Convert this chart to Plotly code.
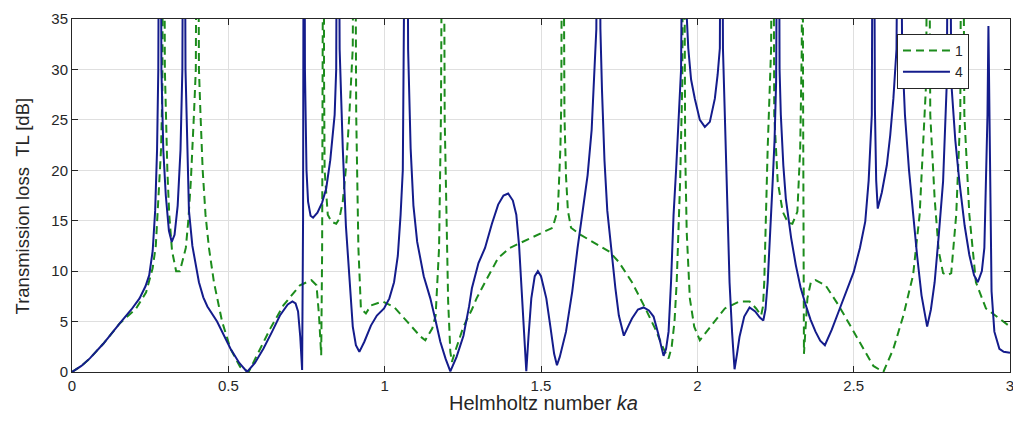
import plotly.graph_objects as go

# Series "1" (green dashed)
x1 = [0.000, 0.030, 0.057, 0.100, 0.152, 0.173, 0.205, 0.237, 0.258, 0.268, 0.274, 0.285, 0.289, 0.293,
      0.297, 0.300, 0.305, 0.311, 0.320, 0.333, 0.345, 0.355, 0.364, 0.372, 0.380, 0.390, 0.396, 0.401,
      0.406, 0.411, 0.418, 0.427, 0.438, 0.454, 0.480, 0.507, 0.538, 0.565, 0.591, 0.634, 0.676, 0.729,
      0.766, 0.782, 0.790, 0.797, 0.800, 0.805, 0.806, 0.808, 0.818, 0.830, 0.845, 0.855, 0.866, 0.877,
      0.887, 0.898, 0.903, 0.909, 0.916, 0.924, 0.940, 0.956, 0.993, 1.030, 1.072, 1.115, 1.130, 1.152,
      1.163, 1.174, 1.180, 1.187, 1.192, 1.197, 1.203, 1.210, 1.215, 1.225, 1.252, 1.279, 1.294, 1.321,
      1.347, 1.363, 1.400, 1.448, 1.490, 1.537, 1.554, 1.562, 1.565, 1.569, 1.575, 1.580, 1.586, 1.596,
      1.627, 1.680, 1.720, 1.749, 1.791, 1.834, 1.865, 1.892, 1.908, 1.918, 1.927, 1.934, 1.945, 1.952,
      1.956, 1.961, 1.966, 1.976, 1.990, 2.008, 2.045, 2.088, 2.135, 2.167, 2.188, 2.204, 2.210, 2.214,
      2.225, 2.236, 2.241, 2.246, 2.257, 2.273, 2.290, 2.304, 2.320, 2.329, 2.334, 2.336, 2.338, 2.341,
      2.352, 2.363, 2.378, 2.410, 2.452, 2.495, 2.537, 2.563, 2.595, 2.627, 2.659, 2.690, 2.711, 2.722,
      2.732, 2.738, 2.745, 2.759, 2.772, 2.786, 2.800, 2.812, 2.828, 2.841, 2.847, 2.854, 2.870, 2.891,
      2.923, 2.966, 3.000]
y1 = [0.0, 0.6, 1.35, 2.8, 4.8, 5.4, 6.3, 7.9, 10.3, 12.5, 15.6, 22.2, 28.0, 70.0,
      30.0, 25.5, 20.0, 15.6, 12.0, 10.0, 10.0, 11.2, 12.3, 15.0, 18.9, 25.5, 30.0, 70.0,
      30.0, 25.5, 20.0, 15.6, 12.3, 8.9, 5.0, 2.3, 0.5, 0.0, 1.66, 4.3, 6.6, 8.6,
      9.1, 8.6, 5.6, 1.66, 12.0, 70.0, 30.0, 20.0, 15.6, 14.9, 14.7, 15.2, 16.9, 20.5,
      25.5, 32.1, 70.0, 25.5, 12.3, 6.3, 5.8, 6.6, 7.0, 6.45, 5.0, 3.5, 3.15, 4.3,
      5.6, 12.3, 25.5, 70.0, 25.0, 15.0, 7.0, 2.0, 1.0, 2.0, 4.5, 6.2, 7.3, 8.9,
      10.3, 11.3, 12.3, 13.0, 13.6, 14.3, 16.1, 22.2, 27.0, 70.0, 25.5, 19.4, 16.0, 14.3,
      13.6, 12.6, 11.9, 10.9, 8.9, 6.3, 4.3, 2.3, 1.33, 2.5, 5.0, 8.9, 18.9, 28.8,
      70.0, 22.2, 13.9, 7.3, 4.5, 3.15, 4.6, 6.3, 7.0, 7.0, 6.3, 5.6, 6.5, 8.9,
      22.2, 32.1, 70.0, 25.5, 18.9, 15.9, 14.8, 14.7, 15.9, 22.2, 32.1, 70.0, 30.0, 1.8,
      7.3, 8.9, 9.1, 8.6, 6.6, 4.3, 2.0, 0.6, 0.0, 2.3, 5.6, 9.6, 15.6, 22.2,
      28.8, 70.0, 25.5, 17.2, 12.0, 9.8, 9.6, 9.8, 15.6, 25.5, 70.0, 25.5, 15.6, 8.9,
      6.3, 5.3, 4.5]

# Series "4" (navy solid)
x4 = [0.000, 0.030, 0.057, 0.100, 0.152, 0.190, 0.216, 0.235, 0.247, 0.258, 0.266, 0.272, 0.276, 0.281,
      0.286, 0.292, 0.300, 0.310, 0.319, 0.328, 0.338, 0.347, 0.353, 0.358, 0.363, 0.368, 0.374, 0.385,
      0.400, 0.406, 0.420, 0.433, 0.464, 0.507, 0.535, 0.560, 0.585, 0.612, 0.640, 0.665, 0.690, 0.705,
      0.715, 0.723, 0.730, 0.736, 0.739, 0.742, 0.745, 0.750, 0.755, 0.763, 0.771, 0.785, 0.800, 0.813,
      0.826, 0.835, 0.840, 0.845, 0.850, 0.856, 0.861, 0.866, 0.876, 0.887, 0.898, 0.908, 0.919, 0.935,
      0.956, 0.975, 0.998, 1.015, 1.030, 1.042, 1.051, 1.058, 1.062, 1.066, 1.070, 1.075, 1.083, 1.092,
      1.104, 1.125, 1.146, 1.162, 1.178, 1.195, 1.210, 1.230, 1.252, 1.270, 1.279, 1.300, 1.321, 1.343,
      1.363, 1.380, 1.395, 1.410, 1.421, 1.430, 1.437, 1.445, 1.453, 1.460, 1.469, 1.480, 1.490, 1.500,
      1.517, 1.530, 1.542, 1.551, 1.560, 1.580, 1.600, 1.617, 1.635, 1.649, 1.662, 1.670, 1.677, 1.683,
      1.690, 1.695, 1.703, 1.712, 1.720, 1.728, 1.738, 1.749, 1.765, 1.780, 1.791, 1.810, 1.828, 1.845,
      1.860, 1.875, 1.892, 1.900, 1.908, 1.916, 1.924, 1.932, 1.940, 1.948, 1.958, 1.965, 1.971, 1.980,
      1.992, 2.008, 2.024, 2.040, 2.056, 2.065, 2.072, 2.077, 2.082, 2.088, 2.095, 2.103, 2.111, 2.119,
      2.127, 2.135, 2.150, 2.167, 2.185, 2.200, 2.211, 2.218, 2.225, 2.233, 2.241, 2.247, 2.252, 2.259,
      2.263, 2.267, 2.275, 2.283, 2.300, 2.315, 2.330, 2.347, 2.362, 2.378, 2.393, 2.408, 2.430, 2.452,
      2.475, 2.500, 2.520, 2.537, 2.548, 2.558, 2.563, 2.568, 2.572, 2.577, 2.590, 2.606, 2.617, 2.627,
      2.637, 2.646, 2.655, 2.664, 2.677, 2.690, 2.703, 2.717, 2.735, 2.747, 2.759, 2.772, 2.786, 2.798,
      2.805, 2.812, 2.825, 2.838, 2.855, 2.870, 2.885, 2.897, 2.910, 2.918, 2.925, 2.928, 2.931, 2.934,
      2.937, 2.941, 2.950, 2.966, 2.980, 3.000]
y4 = [0.0, 0.6, 1.35, 2.8, 4.8, 6.2, 7.3, 8.5, 9.6, 12.0, 16.0, 22.0, 30.0, 70.0,
      30.0, 22.0, 17.5, 14.0, 12.9, 13.6, 16.5, 22.0, 30.0, 70.0, 30.0, 22.0, 16.0, 12.5,
      9.6, 8.9, 7.4, 6.5, 5.0, 2.3, 0.9, 0.0, 0.9, 2.3, 4.0, 5.6, 6.7, 7.0,
      6.8, 6.0, 3.5, 0.2, 15.0, 70.0, 30.0, 20.0, 16.9, 15.5, 15.3, 15.8, 16.8, 18.2,
      21.0, 24.0, 25.5, 30.0, 70.0, 32.0, 27.0, 22.2, 14.5, 8.9, 4.5, 2.65, 2.0, 3.0,
      4.6, 5.6, 6.3, 7.3, 8.9, 11.5, 15.6, 20.0, 25.5, 32.0, 70.0, 32.0, 22.2, 16.5,
      12.9, 9.5, 7.3, 5.2, 3.0, 1.3, 0.07, 1.5, 3.6, 6.5, 8.3, 10.8, 12.3, 14.7,
      16.6, 17.5, 17.7, 17.0, 15.6, 12.5, 8.9, 4.0, 0.07, 3.5, 7.3, 9.5, 10.0, 9.5,
      7.3, 4.5, 1.8, 0.67, 1.5, 4.0, 8.0, 12.3, 16.5, 19.5, 24.0, 28.8, 34.0, 70.0,
      34.0, 28.0, 21.0, 16.0, 13.4, 11.5, 8.3, 5.6, 3.6, 4.6, 5.3, 6.2, 6.4, 6.1,
      5.5, 3.8, 1.6, 2.3, 4.0, 9.0, 15.6, 20.0, 25.5, 30.0, 70.0, 36.0, 32.1, 29.0,
      27.1, 25.0, 24.3, 24.8, 27.1, 29.5, 32.1, 70.0, 32.0, 25.5, 17.0, 8.9, 4.0, 0.27,
      1.8, 3.5, 5.5, 6.4, 6.0, 5.4, 5.1, 6.2, 8.9, 13.5, 18.9, 23.0, 28.8, 70.0,
      30.0, 25.5, 20.5, 17.2, 13.3, 10.6, 8.4, 6.6, 5.2, 4.0, 3.1, 2.65, 4.2, 6.0,
      7.8, 9.9, 12.3, 14.9, 19.0, 25.5, 70.0, 26.0, 19.0, 16.2, 17.8, 20.5, 23.5, 27.1,
      32.0, 70.0, 32.0, 25.5, 20.0, 15.6, 11.5, 7.6, 4.5, 6.2, 8.9, 13.5, 18.9, 28.8,
      70.0, 28.8, 23.0, 18.9, 14.5, 11.6, 9.6, 8.9, 10.0, 12.3, 20.0, 25.5, 34.3, 26.0,
      15.0, 8.0, 4.0, 2.3, 2.0, 1.9]

x_ticks = [0, 0.5, 1, 1.5, 2, 2.5, 3]
x_tick_labels = ["0", "0.5", "1", "1.5", "2", "2.5", "3"]
y_ticks = [0, 5, 10, 15, 20, 25, 30, 35]
legend_names = ["1", "4"]
x_title = "Helmholtz number <i>ka</i>"
y_title = "Transmission loss\u00a0\u00a0TL [dB]"

GREEN = "#1c8c1c"
NAVY = "#141c8c"
TXT = "#262626"
FONT = "Liberation Sans, Arial, sans-serif"

fig = go.Figure()
fig.add_trace(go.Scatter(x=x1, y=y1, mode="lines", name=legend_names[0],
                         line=dict(color=GREEN, width=2, dash="8px,5px")))
fig.add_trace(go.Scatter(x=x4, y=y4, mode="lines", name=legend_names[1],
                         line=dict(color=NAVY, width=2)))

axis_common = dict(showline=True, linecolor=TXT, linewidth=1, mirror="ticks",
                   ticks="inside", ticklen=6, tickcolor=TXT,
                   showgrid=True, gridcolor="#dfdfdf", gridwidth=1,
                   zeroline=False, automargin=False, ticklabeloverflow="allow",
                   tickfont=dict(family=FONT, size=15, color=TXT))

fig.update_xaxes(range=[0, 3], tickvals=x_ticks, ticktext=x_tick_labels, **axis_common)
fig.update_yaxes(range=[0, 35], tickvals=y_ticks, **axis_common)

# Page body adds an 8 px offset; the figure is kept inside the 1021x425 window
# (no overflow) so the last tick label is not cut.
fig.update_layout(
    width=1005, height=409,
    margin=dict(l=64, r=3, t=11, b=45),
    paper_bgcolor="white", plot_bgcolor="white",
    showlegend=True,
    legend=dict(x=0.8795, y=0.958, xanchor="left", yanchor="top",
                bgcolor="white", bordercolor=TXT, borderwidth=1,
                font=dict(family=FONT, size=14, color=TXT),
                tracegroupgap=0, itemwidth=47),
    annotations=[
        dict(text=x_title, xref="paper", yref="paper", x=0.503, y=-0.126,
             xanchor="center", yanchor="bottom", showarrow=False,
             font=dict(family=FONT, size=20, color=TXT)),
        dict(text=y_title, xref="paper", yref="paper", x=-0.0529, y=0.47,
             xanchor="center", yanchor="middle", textangle=-90, showarrow=False,
             font=dict(family=FONT, size=18.5, color=TXT)),
    ],
)

fig.write_html("out.html")
